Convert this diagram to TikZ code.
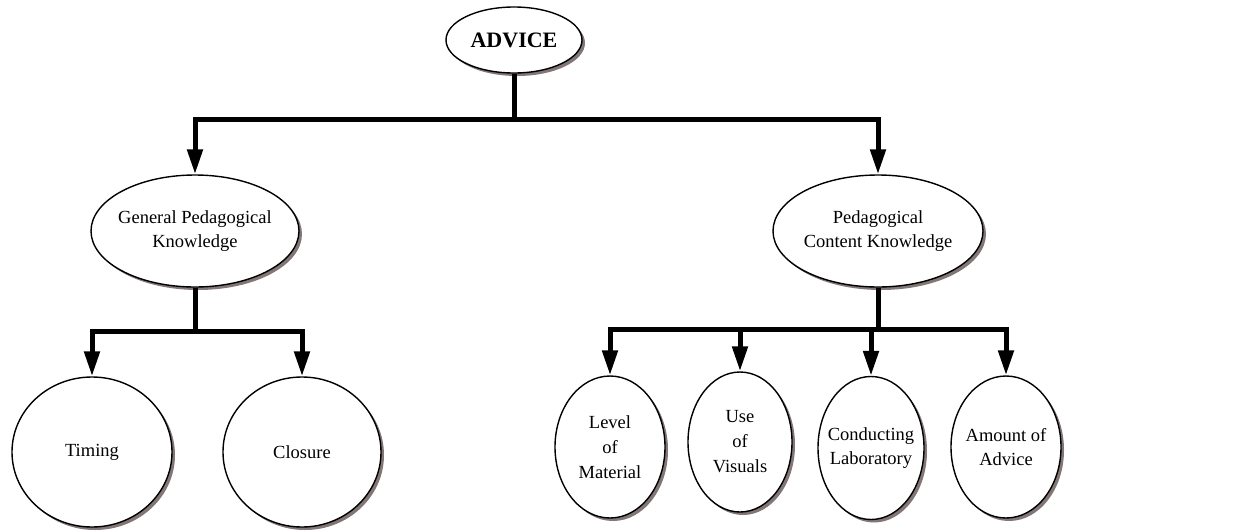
\documentclass[tikz,border=0pt]{standalone}
\usepackage{fontspec}
\setmainfont{Liberation Serif}
\usetikzlibrary{shapes.geometric,shadows,arrows.meta}
\definecolor{shadowgray}{RGB}{130,118,118}
\tikzset{
  bub/.style={ellipse, draw=black, line width=1.4pt, fill=white, inner xsep=-25pt, inner ysep=-10pt, align=center,
    font=\fontsize{18.5}{24}\selectfont,
    drop shadow={shadow xshift=3pt, shadow yshift=-3pt, fill=shadowgray, opacity=1}},
  conn/.style={line width=5pt, line join=miter},
  arr/.style={conn, -{Triangle[length=25pt,width=15pt]}}
}
\begin{document}
\begin{tikzpicture}[x=1pt,y=-1pt]
\useasboundingbox (0,0) rectangle (1243,531);
\node[bub, minimum width=136pt, minimum height=66pt, font=\fontsize{22}{24}\selectfont\bfseries] (advice) at (514,40) {ADVICE};
\node[bub, minimum width=208pt, minimum height=112pt] (gpk) at (195,231) {General Pedagogical\\Knowledge};
\node[bub, minimum width=210pt, minimum height=112pt] (pck) at (878,231) {Pedagogical\\Content Knowledge};
\node[bub, minimum width=160pt, minimum height=150pt] (timing) at (92,452) {Timing};
\node[bub, minimum width=158pt, minimum height=150pt] (closure) at (302,452) {Closure};
\node[bub, minimum width=110pt, minimum height=142pt, font=\fontsize{18.5}{25}\selectfont] (level) at (610,447) {Level\\of\\Material};
\node[bub, minimum width=104pt, minimum height=140pt, font=\fontsize{18.5}{25}\selectfont] (use) at (740,442) {Use\\of\\Visuals};
\node[bub, minimum width=106pt, minimum height=143pt] (cond) at (871,448) {Conducting\\Laboratory};
\node[bub, minimum width=110pt, minimum height=142pt] (amount) at (1006,447) {Amount of\\Advice};
\coordinate (j1) at (514,119);
\coordinate (j2) at (195,331);
\coordinate (j3) at (878,329);
\draw[conn] (advice.south) -- (j1);
\draw[arr] (j1) -| (gpk.north);
\draw[arr] (j1) -| (pck.north);
\draw[conn] (gpk.south) -- (j2);
\draw[arr] (j2) -| (timing.north);
\draw[arr] (j2) -| (closure.north);
\draw[conn] (pck.south) -- (j3);
\draw[arr] (j3) -| (level.north);
\draw[arr] (j3) -| (use.north);
\draw[arr] (j3) -| (cond.north);
\draw[arr] (j3) -| (amount.north);
\end{tikzpicture}
\end{document}
